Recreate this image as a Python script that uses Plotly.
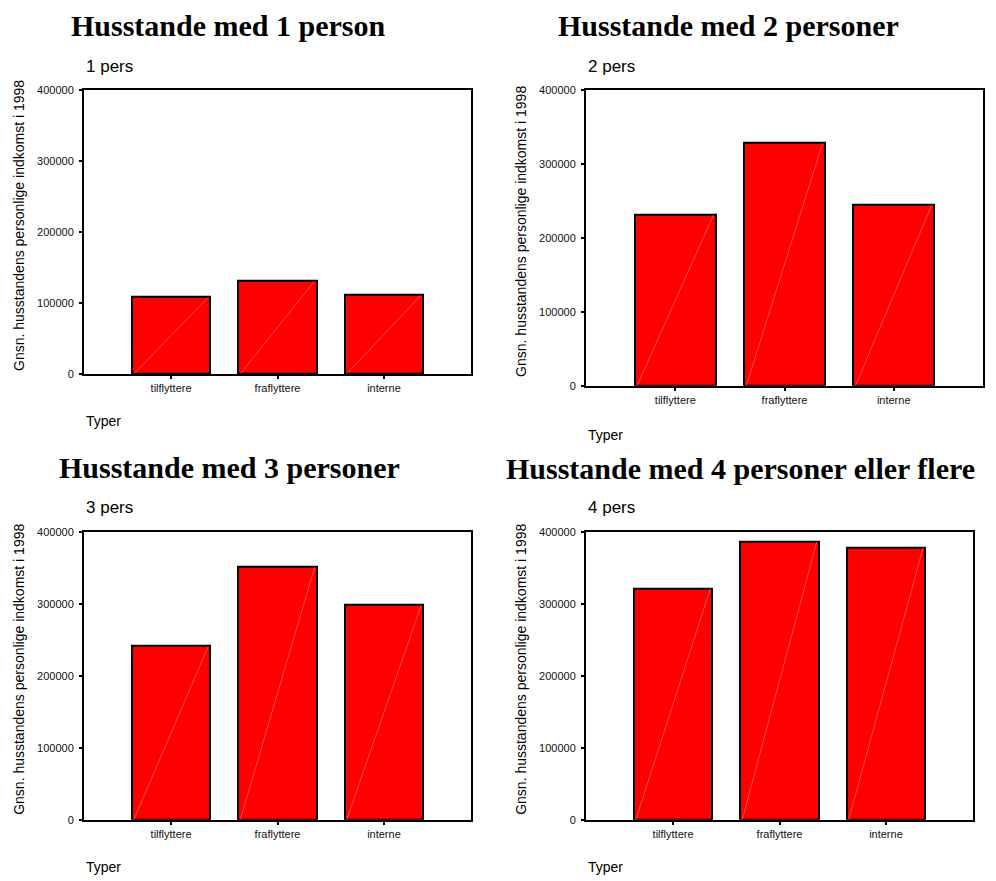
import plotly.graph_objects as go

categories = ["tilflyttere", "fraflyttere", "interne"]
panel_titles = ["Husstande med 1 person", "Husstande med 2 personer",
                "Husstande med 3 personer", "Husstande med 4 personer eller flere"]
panel_subtitles = ["1 pers", "2 pers", "3 pers", "4 pers"]
values_1 = [108000, 131000, 111000]
values_2 = [231000, 328000, 245000]
values_3 = [241000, 351000, 298000]
values_4 = [321000, 386000, 378000]
y_ticks = [0, 100000, 200000, 300000, 400000]
y_title = "Gnsn. husstandens personlige indkomst i 1998"
x_title = "Typer"

all_values = [values_1, values_2, values_3, values_4]

W, H = 996, 881
# pixel boxes of plot areas: (left, right, top, bottom)
boxes = [(84, 471, 85, 373), (586, 983, 85, 385), (84, 471, 533, 825), (586, 973, 533, 825)]
title_pos = [(228, 20), (728, 20), (229, 468), (740, 469)]
sub_pos = [(84, 61), (586, 61), (84, 508), (586, 508)]
typer_pos = [(84, 421), (586, 435), (84, 873), (586, 873)]
ytitle_x = [19, 521, 19, 521]

BAR_W = 0.74
fig = go.Figure()
annotations = []
for i, vals in enumerate(all_values):
    n = i + 1
    xa = "x" if n == 1 else f"x{n}"
    ya = "y" if n == 1 else f"y{n}"
    fig.add_trace(go.Bar(x=list(range(len(categories))), y=vals, width=BAR_W,
                         marker=dict(color="#ff0000", line=dict(color="black", width=2)),
                         xaxis=xa, yaxis=ya, showlegend=False))
    # thin diagonal highlight inside each bar (from data)
    dx, dy = [], []
    for j, v in enumerate(vals):
        dx += [j - BAR_W / 2 + 0.02, j + BAR_W / 2 - 0.02, None]
        dy += [0, v, None]
    fig.add_trace(go.Scatter(x=dx, y=dy, mode="lines", line=dict(color="rgba(255,255,255,0.5)", width=0.6),
                             xaxis=xa, yaxis=ya, showlegend=False, hoverinfo="skip"))
    l, r, t, b = boxes[i]
    xd = [l / W, r / W]
    yd = [1 - b / H, 1 - t / H]
    axis_common = dict(showline=True, linecolor="black", linewidth=2, mirror=True,
                       showgrid=False, zeroline=False, ticks="outside", ticklen=3,
                       tickcolor="black", tickwidth=2,
                       tickfont=dict(family="Arial, Liberation Sans", size=11, color="#111"))
    fig.layout[f"xaxis{'' if n == 1 else n}"] = dict(
        domain=xd, anchor=ya, range=[-0.818, 2.818], tickmode="array",
        tickvals=list(range(len(categories))), ticktext=categories, fixedrange=True, **axis_common)
    fig.layout[f"yaxis{'' if n == 1 else n}"] = dict(
        domain=yd, anchor=xa, range=[0, 400000], tickmode="array", tickvals=y_ticks,
        ticktext=[str(v) for v in y_ticks], ticklabelstandoff=3, fixedrange=True, **axis_common)
    tx, ty = title_pos[i]
    annotations.append(dict(text=f"<b>{panel_titles[i]}</b>", x=tx / W, y=1 - ty / H, xref="paper", yref="paper",
                            xanchor="center", yanchor="middle", showarrow=False,
                            font=dict(family="Liberation Serif, Times New Roman", size=30, color="black")))
    sx, sy = sub_pos[i]
    annotations.append(dict(text=panel_subtitles[i], x=sx / W, y=1 - sy / H, xref="paper", yref="paper",
                            xanchor="left", yanchor="middle", showarrow=False,
                            font=dict(family="Arial, Liberation Sans", size=17, color="black")))
    px_, py_ = typer_pos[i]
    annotations.append(dict(text=x_title, x=px_ / W, y=1 - py_ / H, xref="paper", yref="paper",
                            xanchor="left", yanchor="middle", showarrow=False,
                            font=dict(family="Arial, Liberation Sans", size=14, color="black")))
    annotations.append(dict(text=y_title, x=ytitle_x[i] / W, y=1 - ((t + b) / 2 - 6) / H, xref="paper", yref="paper",
                            xanchor="center", yanchor="middle", showarrow=False, textangle=-90,
                            font=dict(family="Arial, Liberation Sans", size=14, color="black")))

fig.update_layout(width=W, height=H, margin=dict(l=0, r=0, t=0, b=0),
                  paper_bgcolor="white", plot_bgcolor="white", annotations=annotations,
                  bargap=0, hovermode=False)
fig.write_html("out.html", config={"displayModeBar": False},
               post_script="document.body.style.margin='0';document.body.style.padding='0';document.body.style.overflow='hidden';")
